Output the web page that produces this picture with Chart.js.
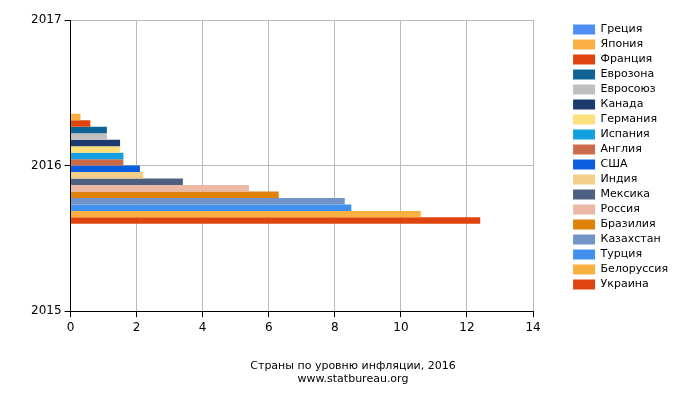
<!DOCTYPE html>
<html><head><meta charset="utf-8">
<script src="https://cdn.jsdelivr.net/npm/chart.js@4"></script>
<style>html,body{margin:0;background:#fff}#wrap{width:700px;height:400px}</style>
</head><body><div id="wrap"><canvas id="c"></canvas></div>
<script>
const years = ["2017", "2016", "2015"];
const countries = ["Греция", "Япония", "Франция", "Еврозона", "Евросоюз", "Канада", "Германия", "Испания", "Англия", "США", "Индия", "Мексика", "Россия", "Бразилия", "Казахстан", "Турция", "Белоруссия", "Украина"];
const inflation = [0, 0.3, 0.6, 1.1, 1.1, 1.5, 1.5, 1.6, 1.6, 2.1, 2.2, 3.4, 5.4, 6.3, 8.3, 8.5, 10.6, 12.4];
const colors = ["#4f8ff5", "#f9b040", "#e0440e", "#0e6494", "#c0c0c0", "#1c3a6e", "#fde07c", "#14a0e0", "#cc6a4c", "#0a5ee0", "#f3cf88", "#4e6080", "#ebb8a6", "#de8209", "#7293c8", "#4190f0", "#f9b040", "#e0440e"];

Chart.defaults.font.family = "DejaVu Sans";
Chart.defaults.color = "#000";

// widen the legend box on its left side so the plot ends where the reference does
const legendGap = {
  id: "legendGap",
  afterInit(chart) {
    const orig = chart.legend.fit;
    chart.legend.fit = function () { orig.call(this); this.width += 36; };
  },
  afterLayout(chart) { chart.legend.left += 36; },
};

new Chart(document.getElementById("c"), {
  type: "bar",
  data: {
    labels: years,
    datasets: countries.map((name, i) => ({
      label: name,
      data: [null, inflation[i], null],
      backgroundColor: colors[i],
      categoryPercentage: 0.8,
      barPercentage: 1,
    })),
  },
  options: {
    indexAxis: "y",
    responsive: true,
    maintainAspectRatio: false,
    animation: false,
    layout: { padding: { top: 20, left: 28, right: 22 } },
    plugins: {
      tooltip: { enabled: false },
      legend: {
        position: "right",
        align: "start",
        labels: { boxWidth: 22, boxHeight: 10, padding: 4, font: { size: 11 } },
      },
      title: {
        display: true,
        position: "bottom",
        text: ["Страны по уровню инфляции, 2016", "www.statbureau.org"],
        font: { size: 11, weight: "normal" },
        padding: { top: 22, bottom: 14 },
      },
    },
    scales: {
      x: {
        min: 0, max: 14,
        ticks: { stepSize: 2, font: { size: 12 } },
        grid: { color: "#bbb", tickColor: "#000", tickLength: 6 },
        border: { color: "#000" },
      },
      y: {
        offset: false,
        ticks: { font: { size: 12 } },
        grid: { offset: false, color: "#bbb", tickColor: "#000", tickLength: 6 },
        border: { color: "#000" },
      },
    },
  },
  plugins: [legendGap],
});
</script></body></html>
